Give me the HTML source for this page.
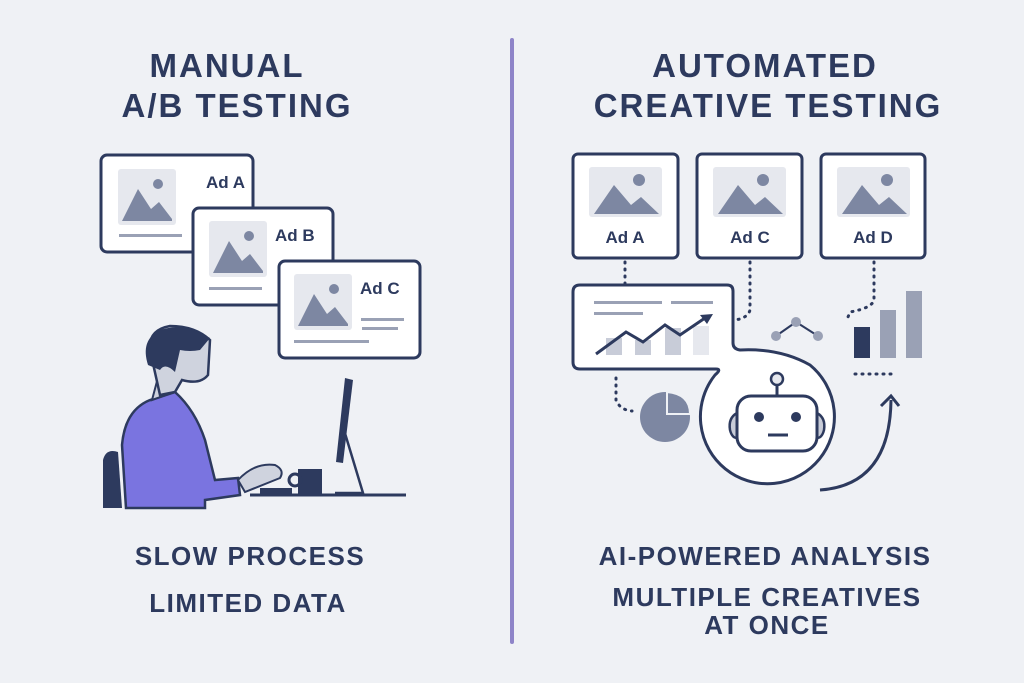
<!DOCTYPE html>
<html><head><style>body{margin:0;background:#eff1f5}svg{display:block}text{font-family:"Liberation Sans",sans-serif;font-weight:bold;fill:#2d3a5e}</style></head><body>
<svg width="1024" height="683" viewBox="0 0 1024 683" xmlns="http://www.w3.org/2000/svg">
<rect width="1024" height="683" fill="#eff1f5"/>
<line x1="512" y1="40" x2="512" y2="642" stroke="#8e84c8" stroke-width="4" stroke-linecap="round"/>
<g text-anchor="middle" font-size="33" letter-spacing="2">
<text x="227" y="77">MANUAL</text><text x="237" y="117">A/B TESTING</text>
<text x="765" y="77">AUTOMATED</text><text x="768" y="117">CREATIVE TESTING</text>
</g>
<g text-anchor="middle" font-size="26" letter-spacing="1.5">
<text x="250" y="565">SLOW PROCESS</text><text x="248" y="612">LIMITED DATA</text>
<text x="765" y="565">AI-POWERED ANALYSIS</text><text x="767" y="606">MULTIPLE CREATIVES</text><text x="767" y="634">AT ONCE</text>
</g>
<defs>
<g id="img"><rect x="0" y="0" width="58" height="56" rx="3" fill="#e6e8ee"/><circle cx="40" cy="15" r="5" fill="#7d87a2"/><path d="M4 52 L20 20 L33 40 L41 33 L54 50 L54 52Z" fill="#7d87a2"/></g>
<g id="img2"><rect x="0" y="0" width="73" height="50" rx="3" fill="#e6e8ee"/><circle cx="50" cy="13" r="6" fill="#7d87a2"/><path d="M5 47 L25 18 L42 38 L52 30 L70 47Z" fill="#7d87a2"/></g>
</defs>
<rect x="101" y="155" width="152" height="97" rx="6" fill="#fff" stroke="#2d3a5e" stroke-width="3"/>
<use href="#img" x="118" y="169"/><rect x="119" y="234" width="63" height="3" fill="#9aa1b5"/>
<text x="206" y="188" font-size="17">Ad A</text>
<rect x="193" y="208" width="140" height="97" rx="6" fill="#fff" stroke="#2d3a5e" stroke-width="3"/>
<use href="#img" x="209" y="221"/><rect x="209" y="287" width="53" height="3" fill="#9aa1b5"/>
<text x="275" y="241" font-size="17">Ad B</text>
<rect x="279" y="261" width="141" height="97" rx="6" fill="#fff" stroke="#2d3a5e" stroke-width="3"/>
<use href="#img" x="294" y="274"/><rect x="294" y="340" width="75" height="3" fill="#9aa1b5"/>
<rect x="361" y="318" width="43" height="3" fill="#9aa1b5"/><rect x="362" y="327" width="36" height="3" fill="#9aa1b5"/>
<text x="360" y="294" font-size="17">Ad C</text>
<!-- person -->
<path d="M103 508 L103 460 Q106 448 118 452 L122 508Z" fill="#2d3a5e"/>
<path d="M126 508 L122 445 Q125 410 150 400 L175 392 Q195 410 205 440 L215 480 L238 478 L240 495 L205 500 L205 508Z" fill="#7a74e0" stroke="#2d3a5e" stroke-width="2.5"/>
<path d="M175 392 L180 375 L160 370 L152 400Z" fill="#cfd3de" stroke="#2d3a5e" stroke-width="2"/>
<path d="M150 350 Q148 330 170 326 Q195 326 210 340 L208 375 Q200 385 182 380 L175 392 L160 395Z" fill="#cfd3de" stroke="#2d3a5e" stroke-width="2.5"/>
<path d="M148 365 Q140 340 160 330 Q185 322 210 338 L200 350 Q190 352 180 350 L175 372 Q165 362 160 370Z" fill="#2d3a5e"/>
<path d="M238 480 Q255 462 275 465 Q285 470 280 478 L245 492Z" fill="#cfd3de" stroke="#2d3a5e" stroke-width="2"/>
<rect x="260" y="488" width="32" height="7" fill="#2d3a5e"/>
<rect x="298" y="469" width="24" height="25" fill="#2d3a5e"/>
<circle cx="295" cy="480" r="6" fill="none" stroke="#2d3a5e" stroke-width="3"/>
<path d="M345 378 L353 380 L343 463 L336 462Z" fill="#2d3a5e"/>
<path d="M344 430 L363 493 L335 493" fill="none" stroke="#2d3a5e" stroke-width="2.5"/>
<line x1="250" y1="495" x2="406" y2="495" stroke="#2d3a5e" stroke-width="3"/>
<!-- right cards -->
<g stroke="#2d3a5e" stroke-width="3" fill="#fff">
<rect x="573" y="154" width="105" height="104" rx="5"/><rect x="697" y="154" width="105" height="104" rx="5"/><rect x="821" y="154" width="104" height="104" rx="5"/>
</g>
<use href="#img2" x="589" y="167"/><use href="#img2" x="713" y="167"/><use href="#img2" x="837" y="167"/>
<g text-anchor="middle" font-size="17"><text x="625" y="243">Ad A</text><text x="750" y="243">Ad C</text><text x="873" y="243">Ad D</text></g>
<g stroke="#2d3a5e" stroke-width="3" stroke-dasharray="1 6" stroke-linecap="round" fill="none">
<path d="M625 262 L625 284"/><path d="M750 262 L750 310 Q748 318 735 320"/><path d="M874 262 L874 300 Q872 308 850 312 L846 322"/>
<path d="M616 378 L616 400 Q620 410 632 411"/><path d="M855 374 L894 374"/>
</g>
<path d="M580 285 L727 285 Q733 285 733 291 L733 343 Q733 349 740 350 Q780 348 810 365 A67 67 0 1 1 715 375 Q722 369 716 369 L580 369 Q573 369 573 362 L573 292 Q573 285 580 285Z" fill="#fff" stroke="#2d3a5e" stroke-width="3"/>
<rect x="594" y="301" width="68" height="3" fill="#9aa1b5"/><rect x="671" y="301" width="42" height="3" fill="#9aa1b5"/><rect x="594" y="312" width="49" height="3" fill="#9aa1b5"/>
<rect x="606" y="338" width="16" height="17" fill="#c8ccd8"/><rect x="635" y="340" width="16" height="15" fill="#c8ccd8"/><rect x="665" y="328" width="16" height="27" fill="#c8ccd8"/><rect x="693" y="326" width="16" height="29" fill="#e6e8ee"/>
<polyline points="596,354 626,332 643,342 665,325 680,335 705,318" fill="none" stroke="#2d3a5e" stroke-width="3"/>
<path d="M713 314 L700 315 L707 324Z" fill="#2d3a5e"/>
<line x1="777" y1="385" x2="777" y2="396" stroke="#2d3a5e" stroke-width="3"/>
<circle cx="777" cy="379" r="6" fill="#e6e8ee" stroke="#2d3a5e" stroke-width="2.5"/>
<path d="M737 413 Q728 418 730 430 Q732 438 737 438Z" fill="#c8ccd8" stroke="#2d3a5e" stroke-width="2.5"/>
<path d="M817 413 Q826 418 824 430 Q822 438 817 438Z" fill="#c8ccd8" stroke="#2d3a5e" stroke-width="2.5"/>
<rect x="737" y="396" width="80" height="55" rx="14" fill="#fff" stroke="#2d3a5e" stroke-width="3"/>
<circle cx="759" cy="417" r="5" fill="#2d3a5e"/><circle cx="796" cy="417" r="5" fill="#2d3a5e"/>
<line x1="768" y1="435" x2="788" y2="435" stroke="#2d3a5e" stroke-width="3"/>
<circle cx="665" cy="417" r="25" fill="#7d87a2"/>
<path d="M667 392 L667 414 L690 414 Q690 394 667 392Z" fill="#7d87a2" stroke="#eff1f5" stroke-width="2"/>
<polyline points="776,336 796,322 818,336" fill="none" stroke="#2d3a5e" stroke-width="2"/>
<circle cx="776" cy="336" r="5" fill="#9aa1b5"/><circle cx="796" cy="322" r="5" fill="#9aa1b5"/><circle cx="818" cy="336" r="5" fill="#9aa1b5"/>
<rect x="854" y="327" width="16" height="31" fill="#2d3a5e"/><rect x="880" y="310" width="16" height="48" fill="#9aa1b5"/><rect x="906" y="291" width="16" height="67" fill="#9aa1b5"/>
<path d="M820 490 Q890 485 891 400" fill="none" stroke="#2d3a5e" stroke-width="3"/>
<polyline points="881,406 891,396 899,406" fill="none" stroke="#2d3a5e" stroke-width="3"/>
</svg>
</body></html>
